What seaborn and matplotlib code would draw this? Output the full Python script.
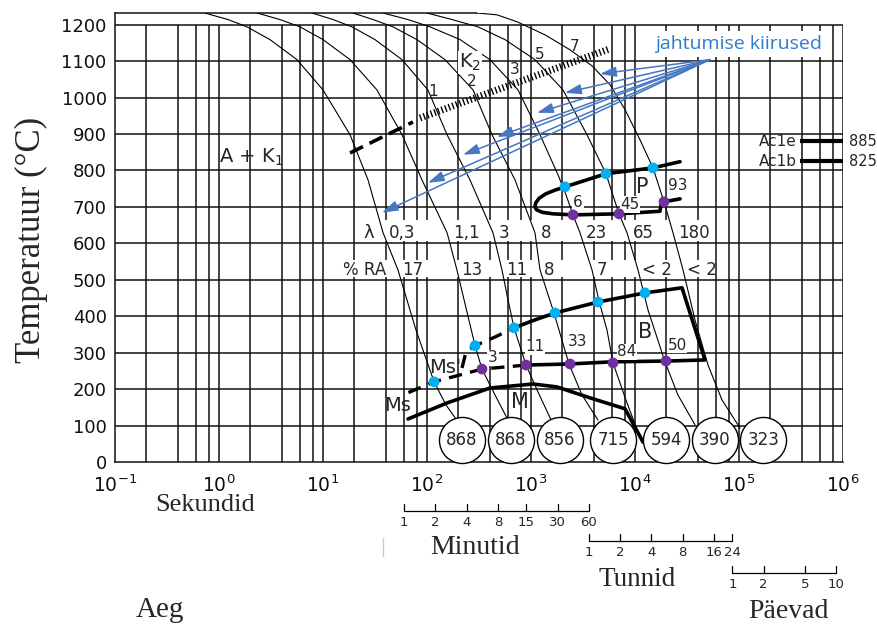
import matplotlib
matplotlib.use('Agg')
import matplotlib.pyplot as plt
import matplotlib.transforms as mtransforms
from matplotlib.lines import Line2D
from matplotlib.ticker import LogFormatterMathtext, NullLocator
import seaborn as sns

# jahtumiskõverad: aeg (s) ja temperatuur (°C), loetud pildilt
k1_aeg = [0.73, 1.22, 1.86, 3.09, 5.62, 10.0, 18.2, 27.1, 37.8, 52.6, 78.4, 117, 152, 208]
k1_temp = [1232, 1214, 1194, 1159, 1104, 1021, 898, 774, 629, 527, 362, 220, 157, 102]
k2_aeg = [2.32, 3.86, 6.01, 10.0, 18.2, 33.0, 57.5, 89.5, 156, 194, 237, 290, 338, 451, 601]
k2_temp = [1232, 1214, 1194, 1159, 1104, 1021, 898, 774, 629, 527, 423, 319, 255, 184, 115]
k3_aeg = [7.84, 12.5, 19.0, 31.6, 57.5, 102, 156, 259, 431, 526, 601, 687, 896, 1142, 1592]
k3_temp = [1232, 1214, 1194, 1159, 1104, 1021, 898, 774, 629, 527, 445, 368, 266, 198, 110]
k4_aeg = [19.4, 30.3, 47.1, 80.1, 149, 277, 422, 702, 1092, 1221, 1663, 2318, 3090, 4406]
k4_temp = [1232, 1214, 1194, 1159, 1104, 1021, 898, 774, 629, 527, 409, 269, 184, 115]
k5_aeg = [37.8, 65.6, 107, 208, 403, 750, 1221, 1819, 2171, 2535, 2958, 3861, 4506, 5380, 6143, 8185, 11700]
k5_temp = [1232, 1214, 1194, 1159, 1104, 1021, 898, 788, 733, 678, 629, 527, 442, 362, 272, 170, 52]
k6_aeg = [100, 174, 309, 562, 1092, 2031, 3453, 5260, 7015, 8376, 10690, 13340, 19410, 25860, 37730]
k6_temp = [1232, 1214, 1194, 1159, 1104, 1021, 898, 791, 681, 629, 527, 417, 275, 184, 102]
k7_aeg = [303, 471, 733, 1364, 2372, 3861, 5754, 8017, 11170, 14890, 19000, 23190, 28960, 37730, 50350, 68700, 102400]
k7_temp = [1232, 1227, 1208, 1172, 1131, 1087, 1035, 967, 884, 807, 714, 629, 527, 390, 266, 170, 93]
kõverad = [(k1_aeg, k1_temp), (k2_aeg, k2_temp), (k3_aeg, k3_temp), (k4_aeg, k4_temp),
           (k5_aeg, k5_temp), (k6_aeg, k6_temp), (k7_aeg, k7_temp)]

lambda_sildid = ['0,3', '1,1', '3', '8', '23', '65', '180']
ra_sildid = ['17', '13', '11', '8', '7', '< 2', '< 2']
kõvadus = [868, 868, 856, 715, 594, 390, 323]
ring_aeg = [216, 642, 1900, 6185, 19870, 58760, 171400]
ring_temp = 60

# perliidi piirkond (P)
p_aeg = [27100, 14890, 5260, 2124, 1700, 1390, 1200, 1110, 1092, 1130, 1290, 1629, 2535, 7015, 17380, 17780, 19000, 27100]
p_temp = [824, 807, 791, 755, 746, 736, 724, 711, 700, 692, 685, 681, 678, 681, 688, 706, 714, 722]
# bainiidi piirkond (B)
b_katk_aeg = [217, 237, 290, 451, 687]
b_katk_temp = [258, 302, 319, 343, 368]
b_aeg = [687, 1092, 1701, 4406, 12480, 28310, 47100, 20300, 6143, 2372, 896]
b_temp = [368, 390, 409, 439, 464, 478, 280, 277, 275, 269, 266]
ms_aeg = [896, 338, 117, 65.6]
ms_temp = [266, 255, 220, 190]
# martensiit (M)
m_aeg = [65.6, 156, 403, 1045, 1778, 3690, 8017, 11940]
m_temp = [118, 162, 203, 214, 206, 176, 146, 55]
# K2 joon
k2_kriips_aeg = [18.2, 73.3]
k2_kriips_temp = [848, 933]
k2_tapp_aeg = [85.7, 5750]
k2_tapp_temp = [944, 1134]

# algus- ja lõpp-punktid
sinine_aeg = [117, 290, 687, 1701, 4406, 12480, 2124, 5260, 14890]
sinine_temp = [220, 319, 368, 409, 439, 464, 755, 791, 807]
lilla_aeg = [338, 896, 2372, 6143, 19860, 2535, 7015, 19000]
lilla_temp = [255, 266, 269, 272, 277, 678, 681, 714]

# noolte otsad (jahtumise kiirused)
nool_algus = (52600, 1104)
nool_aeg = [4606, 2124, 1142, 471, 222, 102, 36.9]
nool_temp = [1065, 1013, 958, 892, 843, 766, 684]

ac_temp = [880, 825]
ac_sildid = ['Ac1e', 'Ac1b']
ac_arvud = ['885', '825']

minutid = [1, 2, 4, 8, 15, 30, 60]
tunnid = [1, 2, 4, 8, 16, 24]
paevad = [1, 2, 5, 10]

sns.set_style('white')
plt.rcParams['font.family'] = ['DejaVu Sans']
plt.rcParams['mathtext.default'] = 'regular'

fig = plt.figure(figsize=(8.78, 6.26), dpi=100)
ax = fig.add_axes([115 / 878, 1 - 462 / 626, 728 / 878, 449 / 626])
ax.set_xscale('log')
ax.set_xlim(0.1, 1e6)
ax.set_ylim(0, 1232)

must = '#111111'
# ruudustik
v_joon = [m * 10.0 ** k for k in range(-1, 6) for m in (1, 2, 4, 6, 8)][1:] + [1e6]
ax.vlines(v_joon, 0, 1200, color=must, lw=1.1, zorder=1)
ax.hlines(range(100, 1300, 100), 0.1, 1e6, color=must, lw=1.1, zorder=1)
ax.plot([0.1, 303], [1232, 1232], color=must, lw=1.1, clip_on=False, zorder=1)
for s in ['top', 'right']:
    ax.spines[s].set_visible(False)
for s in ['left', 'bottom']:
    ax.spines[s].set_color(must)
    ax.spines[s].set_linewidth(1.1)

ax.set_yticks(range(0, 1300, 100))
ax.set_xticks([10.0 ** k for k in range(-1, 7)])
ax.xaxis.set_major_formatter(LogFormatterMathtext())
ax.xaxis.set_minor_locator(NullLocator())
ax.tick_params(length=0, labelsize=13, pad=6, colors='#111111')
ax.tick_params(axis='x', labelsize=13.5, pad=9)

# valged ribad siltide all
ax.fill_between([22.7, 55000], 607, 663, color='white', lw=0, zorder=2)
ax.fill_between([14.6, 55000], 507, 553, color='white', lw=0, zorder=2)

# jahtumiskõverad
for aeg, temp in kõverad:
    sns.lineplot(x=aeg, y=temp, color='black', lw=0.8, sort=False, estimator=None, ax=ax, zorder=3)

for (aeg, temp), lam, ra in zip(kõverad, lambda_sildid, ra_sildid):
    i = temp.index(629)
    ax.annotate(lam, (aeg[i], 629), xytext=(4, 0), textcoords='offset points',
                ha='left', va='center', fontsize=12, zorder=8)
    j = temp.index(527)
    ax.annotate(ra, (aeg[j], 527), xytext=(3, 0), textcoords='offset points',
                ha='left', va='center', fontsize=12, zorder=8)
ax.text(27.7, 629, 'λ', ha='center', va='center', fontsize=13)
ax.text(25.3, 527, '% RA', ha='center', va='center', fontsize=12)

# P, B, M jooned
ax.plot(p_aeg, p_temp, color='black', lw=2.6, zorder=4, solid_joinstyle='round')
ax.plot(b_aeg, b_temp, color='black', lw=2.6, zorder=4)
ax.plot(b_katk_aeg, b_katk_temp, color='black', lw=2.4, dashes=(4, 2.5), zorder=4)
ax.plot(ms_aeg, ms_temp, color='black', lw=2.4, dashes=(4, 2.5), zorder=4)
ax.plot(m_aeg, m_temp, color='black', lw=2.6, zorder=4)
ax.plot(k2_kriips_aeg, k2_kriips_temp, color='black', lw=2.6, dashes=(4, 2), zorder=4)
ax.plot(k2_tapp_aeg, k2_tapp_temp, color='black', lw=5, dashes=(0.2, 0.35),
        solid_capstyle='butt', dash_capstyle='butt', zorder=4)

sns.scatterplot(x=sinine_aeg, y=sinine_temp, color='#00b0f0', s=60, edgecolor='none', zorder=7, ax=ax)
sns.scatterplot(x=lilla_aeg, y=lilla_temp, color='#7030a0', s=60, edgecolor='none', zorder=7, ax=ax)

# kõvaduse ringid
ax.scatter(ring_aeg, [ring_temp] * len(ring_aeg), s=1100, facecolor='white',
           edgecolor='black', lw=1.0, zorder=6, clip_on=False)
for a, k in zip(ring_aeg, kõvadus):
    ax.text(a, ring_temp, str(k), ha='center', va='center', fontsize=12, zorder=7)

# sildid
sildi_kast = dict(facecolor='white', edgecolor='none', pad=0.5)
ax.text(2.03, 835, 'A + K$_1$', ha='center', va='center', fontsize=14)
ax.text(259, 1096, 'K$_2$', ha='center', va='center', fontsize=14, bbox=sildi_kast, zorder=5)
for s, a, t in [('1', 114, 1016), ('2', 271, 1043), ('3', 702, 1076), ('5', 1221, 1117), ('7', 2650, 1139)]:
    ax.text(a, t, s, ha='center', va='center', fontsize=11, zorder=5)
ax.text(11670, 755, 'P', ha='center', va='center', fontsize=15, zorder=5)
ax.text(12480, 357, 'B', ha='center', va='center', fontsize=15, zorder=5)
ax.text(784, 165, 'M', ha='center', va='center', fontsize=15, zorder=5)
ax.text(52.6, 156, 'Ms', ha='center', va='center', fontsize=14, zorder=5)
ax.text(149, 258, "Ms'", ha='center', va='center', fontsize=14, zorder=5)
for s, a, t in [('3', 431, 286), ('11', 1092, 316), ('33', 2831, 330), ('84', 8376, 302),
                ('50', 25350, 321), ('6', 2831, 711), ('45', 8950, 706), ('93', 25900, 760)]:
    ax.text(a, t, s, ha='center', va='center', fontsize=11, bbox=sildi_kast, zorder=5)

# Ac1e / Ac1b
for t, nimi, arv in zip(ac_temp, ac_sildid, ac_arvud):
    ax.plot([386000, 1e6], [t, t], color='black', lw=3, solid_capstyle='butt', zorder=4)
    ax.text(361000, t, nimi, ha='right', va='center', fontsize=11)
    ax.text(1.13e6, t, arv, ha='left', va='center', fontsize=10.5, clip_on=False)

# nooled
sinine = '#4677c1'
for a, t in zip(nool_aeg, nool_temp):
    ax.annotate('', xy=(a, t), xytext=nool_algus,
                arrowprops=dict(arrowstyle='-|>,head_length=0.7,head_width=0.22', color=sinine,
                                lw=1.1, mutation_scale=14, shrinkA=0, shrinkB=0), zorder=6)
ax.text(1.0e5, 1147, 'jahtumise kiirused', ha='center', va='center', fontsize=14,
        color='#2e7bcf', family='Open Sans',
        bbox=dict(facecolor='white', edgecolor='none', pad=3), zorder=5)

# lisaskaalad
trans = mtransforms.blended_transform_factory(ax.transData, ax.transAxes)
for väärtused, tegur, y in [(minutid, 60, -0.109), (tunnid, 3600, -0.176), (paevad, 86400, -0.247)]:
    sek = [v * tegur for v in väärtused]
    ax.plot([sek[0], sek[-1]], [y, y], transform=trans, color='black', lw=0.9, clip_on=False)
    for s, v in zip(sek, väärtused):
        ax.plot([s, s], [y, y + 0.016], transform=trans, color='black', lw=0.9, clip_on=False)
        ax.text(s, y - 0.025, str(v), transform=trans, ha='center', va='center', fontsize=9.5)

serif = 'Liberation Serif'
fig.text(0.036, 0.617, 'Temperatuur (°C)', rotation=90, family=serif, fontsize=25, ha='center', va='center')
fig.text(205 / 878, 1 - 505 / 626, 'Sekundid', family=serif, fontsize=19, ha='center', va='center')
fig.text(475 / 878, 1 - 548 / 626, 'Minutid', family=serif, fontsize=20, ha='center', va='center')
fig.text(637 / 878, 1 - 580 / 626, 'Tunnid', family=serif, fontsize=19.5, ha='center', va='center')
fig.text(788 / 878, 1 - 612 / 626, 'Päevad', family=serif, fontsize=20, ha='center', va='center')
fig.text(160 / 878, 1 - 610 / 626, 'Aeg', family=serif, fontsize=21, ha='center', va='center')
fig.add_artist(Line2D([383 / 878] * 2, [1 - 538 / 626, 1 - 556 / 626], color='#c8c8c8', lw=1))

fig.savefig('out.png', dpi=100)
